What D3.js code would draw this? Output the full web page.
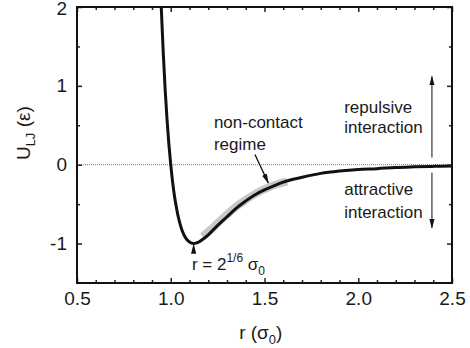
<!DOCTYPE html>
<html>
<head>
<meta charset="utf-8">
<script src="https://cdn.jsdelivr.net/npm/d3@7"></script>
<style>
  html, body { margin: 0; padding: 0; background: #fff; }
  svg text { font-family: "Liberation Sans", Arial, sans-serif; fill: #1a1a1a; }
</style>
</head>
<body>
<div id="chart"></div>
<script>
// Lennard-Jones curve, values
const rValues = [0.94, 0.95, 0.96, 0.97, 0.98, 0.99, 1.00, 1.01, 1.02, 1.03, 1.04, 1.06, 1.08, 1.10, 1.12, 1.14, 1.15, 1.18, 1.20, 1.25, 1.30, 1.35, 1.40, 1.45, 1.50, 1.60, 1.70, 1.80, 1.90, 2.00, 2.10, 2.20, 2.30, 2.40, 2.50];
const uValues = [2.61, 1.96, 1.42, 0.96, 0.58, 0.26, 0, -0.22, -0.40, -0.54, -0.66, -0.83, -0.93, -0.98, -1.00, -0.99, -0.98, -0.93, -0.89, -0.77, -0.66, -0.55, -0.46, -0.38, -0.32, -0.22, -0.16, -0.11, -0.08, -0.06, -0.05, -0.035, -0.027, -0.021, -0.016];

// grey "non-contact regime" band
const bandR = [1.17, 1.20, 1.25, 1.30, 1.35, 1.40, 1.45, 1.50, 1.55, 1.62];
const bandU = [-0.91, -0.85, -0.74, -0.63, -0.53, -0.445, -0.37, -0.31, -0.26, -0.21];

const xTicks = [0.5, 1.0, 1.5, 2.0, 2.5];
const yTicks = [-1, 0, 1, 2];
const xMinor = d3.range(0.6, 2.5, 0.1).filter(v => Math.abs(v * 2 - Math.round(v * 2)) > 1e-6);
const yMinor = [-0.5, 0.5, 1.5];

const W = 470, H = 348;
const margin = { top: 7, right: 18, bottom: 65, left: 77 };
const width = W - margin.left - margin.right;
const height = H - margin.top - margin.bottom;

const svg = d3.select('#chart').append('svg')
  .attr('width', W).attr('height', H);

const defs = svg.append('defs');
defs.append('clipPath').attr('id', 'plotClip')
  .append('rect').attr('width', width).attr('height', height);
defs.append('marker')
  .attr('id', 'head')
  .attr('viewBox', '0 -4 10 8')
  .attr('refX', 9).attr('refY', 0)
  .attr('markerWidth', 10).attr('markerHeight', 8)
  .attr('markerUnits', 'userSpaceOnUse')
  .attr('orient', 'auto')
  .append('path').attr('d', 'M0,-2.6L10,0L0,2.6Z').attr('fill', '#111');

const g = svg.append('g').attr('transform', `translate(${margin.left},${margin.top})`);

const x = d3.scaleLinear().domain([0.5, 2.5]).range([0, width]);
const y = d3.scaleLinear().domain([-1.5, 2]).range([height, 0]);

const fmt = d => (d < 0 ? '-' + Math.abs(d) : String(d));

// zero line
g.append('line')
  .attr('x1', 0).attr('x2', width)
  .attr('y1', y(0)).attr('y2', y(0))
  .attr('stroke', '#777').attr('stroke-width', 1)
  .attr('stroke-dasharray', '1,1');

const plot = g.append('g').attr('clip-path', 'url(#plotClip)');

const line = d3.line()
  .x(d => x(d[0]))
  .y(d => y(d[1]))
  .curve(d3.curveCatmullRom);

plot.append('path')
  .datum(d3.zip(bandR, bandU))
  .attr('fill', 'none')
  .attr('stroke', '#c8c8c8')
  .attr('stroke-width', 8)
  .attr('d', line);

plot.append('path')
  .datum(d3.zip(rValues, uValues))
  .attr('fill', 'none')
  .attr('stroke', '#111')
  .attr('stroke-width', 3)
  .attr('stroke-linejoin', 'round')
  .attr('d', line);

// axes: ticks inward on all four sides
function styleAxis(sel) {
  sel.select('.domain').remove();
  sel.selectAll('line').attr('stroke', '#222').attr('stroke-width', 1.5);
  sel.selectAll('text').style('font-size', '19px').attr('fill', '#1a1a1a');
}

g.append('g').attr('transform', `translate(0,${height})`)
  .call(d3.axisBottom(x).tickValues(xTicks).tickSize(-5).tickPadding(9).tickFormat(d3.format('.1f')))
  .call(styleAxis);
g.append('g').attr('transform', `translate(0,${height})`)
  .call(d3.axisBottom(x).tickValues(xMinor).tickSize(-3).tickFormat(''))
  .call(styleAxis);
g.append('g')
  .call(d3.axisTop(x).tickValues(xTicks).tickSize(-5).tickFormat(''))
  .call(styleAxis);
g.append('g')
  .call(d3.axisTop(x).tickValues(xMinor).tickSize(-3).tickFormat(''))
  .call(styleAxis);

const yAxis = g.append('g')
  .call(d3.axisLeft(y).tickValues(yTicks).tickSize(-5).tickPadding(10).tickFormat(fmt))
  .call(styleAxis);
// keep the top label inside the window
yAxis.selectAll('.tick text').filter(d => d === 2).attr('dy', '0.4em');
g.append('g')
  .call(d3.axisLeft(y).tickValues(yMinor).tickSize(-3).tickFormat(''))
  .call(styleAxis);
g.append('g').attr('transform', `translate(${width},0)`)
  .call(d3.axisRight(y).tickValues(yTicks).tickSize(-5).tickFormat(''))
  .call(styleAxis);
g.append('g').attr('transform', `translate(${width},0)`)
  .call(d3.axisRight(y).tickValues(yMinor).tickSize(-3).tickFormat(''))
  .call(styleAxis);

// frame
g.append('rect')
  .attr('width', width).attr('height', height)
  .attr('fill', 'none').attr('stroke', '#111').attr('stroke-width', 2);

// axis titles
const xt = svg.append('text')
  .attr('x', margin.left + x(1.48)).attr('y', 339)
  .attr('text-anchor', 'middle').style('font-size', '19px');
xt.append('tspan').text('r (σ');
xt.append('tspan').attr('dy', 5).style('font-size', '13px').text('0');
xt.append('tspan').attr('dy', -5).text(')');

const yt = svg.append('text')
  .attr('transform', `translate(30,${margin.top + y(0.4)}) rotate(-90)`)
  .attr('text-anchor', 'middle').style('font-size', '19px');
yt.append('tspan').text('U');
yt.append('tspan').attr('dy', 5).style('font-size', '13px').text('LJ');
yt.append('tspan').attr('dy', -5).text(' (ε)');

// annotations
const ann = g.append('g').style('font-size', '17px');

ann.append('text').attr('x', x(1.23)).attr('y', y(0.47)).text('non-contact');
ann.append('text').attr('x', x(1.23)).attr('y', y(0.19)).text('regime');
ann.append('line')
  .attr('x1', x(1.449)).attr('y1', y(0.13))
  .attr('x2', x(1.52)).attr('y2', y(-0.23))
  .attr('stroke', '#111').attr('stroke-width', 1.3)
  .attr('marker-end', 'url(#head)');

const rt = ann.append('text').attr('x', x(1.113)).attr('y', y(-1.335));
rt.append('tspan').text('r = 2');
rt.append('tspan').attr('dy', -8).style('font-size', '12px').text('1/6');
rt.append('tspan').attr('dy', 8).text(' σ');
rt.append('tspan').attr('dy', 5).style('font-size', '12px').text('0');
ann.append('line')
  .attr('x1', x(1.122)).attr('y1', y(-1.12))
  .attr('x2', x(1.122)).attr('y2', y(-1.015))
  .attr('stroke', '#111').attr('stroke-width', 1)
  .attr('marker-end', 'url(#head)');

ann.append('text').attr('x', x(1.925)).attr('y', y(0.66)).text('repulsive');
ann.append('text').attr('x', x(1.925)).attr('y', y(0.405)).text('interaction');
ann.append('text').attr('x', x(1.925)).attr('y', y(-0.38)).text('attractive');
ann.append('text').attr('x', x(1.925)).attr('y', y(-0.67)).text('interaction');

ann.append('line')
  .attr('x1', x(2.393)).attr('y1', y(0.09))
  .attr('x2', x(2.393)).attr('y2', y(1.12))
  .attr('stroke', '#111').attr('stroke-width', 1)
  .attr('marker-end', 'url(#head)');
ann.append('line')
  .attr('x1', x(2.393)).attr('y1', y(-0.1))
  .attr('x2', x(2.393)).attr('y2', y(-0.8))
  .attr('stroke', '#111').attr('stroke-width', 1)
  .attr('marker-end', 'url(#head)');
</script>
</body>
</html>
